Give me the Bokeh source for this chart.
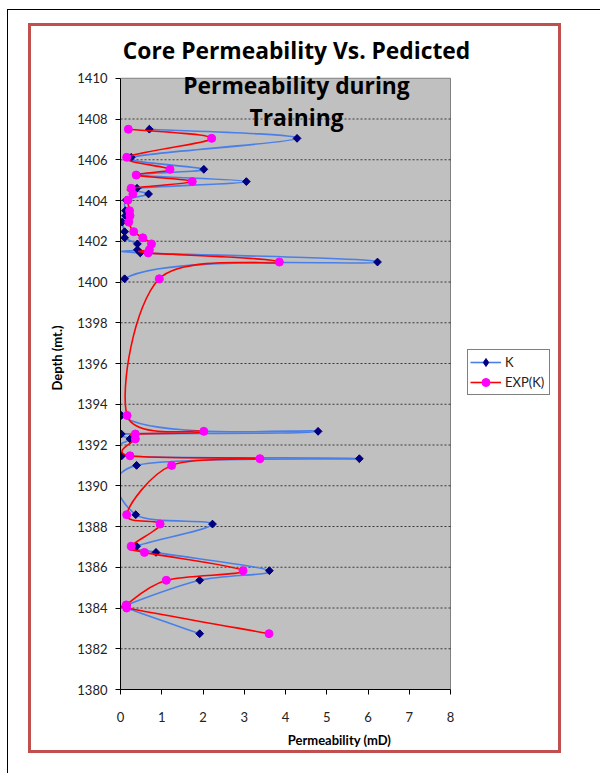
from bokeh.plotting import figure
from bokeh.models import Range1d, Label, Legend, LegendItem, FixedTicker, ColumnDataSource, BoxAnnotation
from bokeh.embed import file_html
from bokeh.resources import INLINE
import math

# ---- data ----
depth = [1407.50, 1407.05, 1406.12, 1405.53, 1405.25, 1404.93, 1404.60, 1404.32, 1404.02, 1403.50,
         1403.25, 1402.94, 1402.47, 1402.17, 1401.87, 1401.58, 1401.43, 1400.98, 1400.16, 1393.45,
         1392.67, 1392.54, 1392.30, 1391.47, 1391.33, 1391.00, 1388.58, 1388.12, 1387.03, 1386.73,
         1385.83, 1385.36, 1384.15, 1384.00, 1382.74]
k_core = [0.70, 4.28, 0.26, 2.02, 0.40, 3.05, 0.40, 0.68, 0.14, 0.12,
          0.12, 0.04, 0.10, 0.10, 0.41, 0.41, 0.48, 6.23, 0.10, 0.02,
          4.79, 0.02, 0.23, 0.03, 5.79, 0.39, 0.37, 2.23, 0.39, 0.86,
          3.61, 1.92, 0.15, 0.15, 1.92]
exp_k = [0.19, 2.21, 0.15, 1.20, 0.38, 1.74, 0.26, 0.30, 0.18, 0.22,
         0.23, 0.20, 0.32, 0.54, 0.75, 0.70, 0.67, 3.85, 0.94, 0.16,
         2.02, 0.36, 0.36, 0.23, 3.38, 1.24, 0.15, 0.96, 0.26, 0.58,
         2.97, 1.11, 0.14, 0.15, 3.60]
y_ticks = list(range(1380, 1411, 2))
x_ticks = list(range(0, 9))
series_names = ["K", "EXP(K)"]
title_lines = ["Core Permeability Vs. Pedicted", "Permeability during", "Training"]

# ---- layout (pixels) ----
CANVAS_W, CANVAS_H = 527, 724
BORDER_L, BORDER_B = 89, 58
PLOT_W, PLOT_H = 330, 614          # grey plot area inside the (larger) Bokeh frame
FRAME_W, FRAME_H = CANVAS_W - BORDER_L, CANVAS_H - BORDER_B
x_lo, x_hi = x_ticks[0], x_ticks[-1]
y_lo, y_hi = y_ticks[0], y_ticks[-1]
x_end = x_lo + (x_hi - x_lo) * FRAME_W / PLOT_W
y_end = y_lo + (y_hi - y_lo) * FRAME_H / PLOT_H
px_y = (y_hi - y_lo) / PLOT_H      # data units per pixel (vertical)
px_x = (x_hi - x_lo) / PLOT_W


def smooth_source(xs, ys):
    """Excel-style smoothed line: Catmull-Rom segments drawn as Bezier curves."""
    n = len(xs)
    d = dict(x0=[], y0=[], x1=[], y1=[], cx0=[], cy0=[], cx1=[], cy1=[])
    for i in range(n - 1):
        a = max(i - 1, 0)
        b = i
        c = i + 1
        e = min(i + 2, n - 1)
        d["x0"].append(xs[b]); d["y0"].append(ys[b])
        d["x1"].append(xs[c]); d["y1"].append(ys[c])
        d["cx0"].append(xs[b] + (xs[c] - xs[a]) / 6.0)
        d["cy0"].append(ys[b] + (ys[c] - ys[a]) / 6.0)
        d["cx1"].append(xs[c] - (xs[e] - xs[b]) / 6.0)
        d["cy1"].append(ys[c] - (ys[e] - ys[b]) / 6.0)
    return ColumnDataSource(d)


p = figure(width=CANVAS_W, height=CANVAS_H, output_backend="svg", toolbar_location=None,
           x_range=Range1d(x_lo, x_end), y_range=Range1d(y_lo, y_end),
           min_border_left=BORDER_L, min_border_right=0, min_border_top=0, min_border_bottom=BORDER_B)

# red chart-area frame (outline) and the black page edge (shadow)
p.styles = {
    "outline": "3px solid #C0504D",
    "margin-left": "31px",
    "margin-top": "26px",
    "box-shadow": "17px 24px 0 40px white, 16px 23px 0 40px black",
}

p.background_fill_color = "white"
p.border_fill_color = "white"
p.outline_line_color = None

# grey plot area
p.add_layout(BoxAnnotation(left=x_lo, right=x_hi, bottom=y_lo, top=y_hi, level="underlay",
                           fill_color="#C0C0C0", fill_alpha=1.0,
                           line_color="#808080", line_width=1, line_alpha=1.0))

# axes
p.xaxis.ticker = FixedTicker(ticks=x_ticks)
p.yaxis.ticker = FixedTicker(ticks=y_ticks)
p.xaxis.bounds = (x_lo, x_hi)
p.yaxis.bounds = (y_lo, y_hi)
for ax in (p.xaxis[0], p.yaxis[0]):
    ax.axis_line_color = "black"
    ax.major_tick_line_color = "black"
    ax.major_tick_out = 5
    ax.major_tick_in = 0
    ax.minor_tick_line_color = None
    ax.major_label_text_font = "Lato"
    ax.major_label_text_font_size = "13px"
    ax.major_label_text_color = "#222222"
    ax.axis_label_text_font = "Lato"
    ax.axis_label_text_font_style = "bold"
    ax.axis_label_text_font_size = "13px"
    ax.axis_label_text_color = "black"
p.xaxis.axis_label = "Permeability (mD)"
p.yaxis.axis_label = "Depth (mt.)"
p.xaxis.major_label_standoff = 17
p.yaxis.major_label_standoff = 8
p.xaxis.axis_label_standoff = 7
p.yaxis.axis_label_standoff = 9

# dashed horizontal gridlines, only across the grey plot area
p.xgrid.visible = False
p.ygrid.visible = False
inner = y_ticks[1:-1]
p.segment(x0=[x_lo] * len(inner), x1=[x_hi] * len(inner), y0=inner, y1=inner,
          line_color="black", line_alpha=0.7, line_dash="2 2", line_width=1)

# series
k_line = p.bezier(x0="x0", y0="y0", x1="x1", y1="y1", cx0="cx0", cy0="cy0", cx1="cx1", cy1="cy1",
                  source=smooth_source(k_core, depth), line_color="#4A7FE8", line_width=1.6)
# (diamond key glyph for the legend, fully covered by the rotated squares in the plot)
k_key = p.scatter(k_core, depth, marker="diamond", size=7, fill_color="#000080", line_color="#000080")
k_pts = p.scatter(k_core, depth, marker="square", angle=math.pi / 4, size=5.5,
                  fill_color="#000080", line_color="#000080")
e_line = p.bezier(x0="x0", y0="y0", x1="x1", y1="y1", cx0="cx0", cy0="cy0", cx1="cx1", cy1="cy1",
                  source=smooth_source(exp_k, depth), line_color="#FF0000", line_width=1.6)
e_pts = p.scatter(exp_k, depth, marker="circle", size=8,
                  fill_color="#FF00FF", line_color="#FF00FF")

legend = Legend(items=[LegendItem(label=series_names[0], renderers=[k_line, k_key]),
                       LegendItem(label=series_names[1], renderers=[e_line, e_pts])],
                location=(347, 294), glyph_width=31, glyph_height=20, spacing=0, padding=2,
                margin=0, label_standoff=4, label_width=42, label_text_font="Lato",
                label_text_font_size="13px", label_text_color="#222222",
                border_line_color="black", border_line_width=1,
                background_fill_color="white", background_fill_alpha=1.0)
p.add_layout(legend, "center")

# three-line title, overlapping the top of the plot area as in the reference
title_x = x_lo + 176 * px_x
title_y = [y_hi + 28 * px_y, y_hi - 7 * px_y, y_hi - 39 * px_y]
for txt, ty in zip(title_lines, title_y):
    p.add_layout(Label(x=title_x, y=ty, x_units="data", y_units="data", text=txt,
                       text_align="center", text_baseline="alphabetic", text_font="Open Sans",
                       text_font_style="bold", text_font_size="22.8px", text_color="black"))

open("out.html", "w").write(file_html(p, INLINE))
